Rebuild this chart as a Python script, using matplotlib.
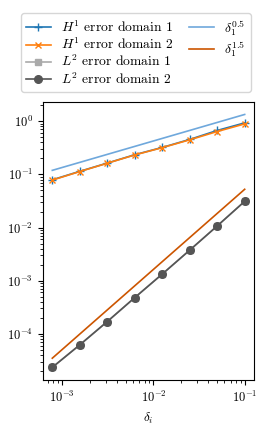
import matplotlib
matplotlib.use("Agg")
import matplotlib.pyplot as plt
from matplotlib.lines import Line2D
import numpy as np

plt.rcParams['font.family'] = 'serif'
plt.rcParams['font.serif'] = ['cmr10']
plt.rcParams['mathtext.fontset'] = 'cm'
plt.rcParams['axes.formatter.use_mathtext'] = True
plt.rcParams['axes.unicode_minus'] = False

delta = [0.1, 0.05, 0.025, 0.0125, 0.00625, 0.003125, 0.0015625, 0.00078125]
h1_dom1 = [0.93, 0.67, 0.454, 0.321, 0.234, 0.163, 0.114, 0.079]
h1_dom2 = [0.89, 0.64, 0.447, 0.318, 0.232, 0.162, 0.113, 0.078]
l2_dom1 = [0.0311, 0.0107, 0.00375, 0.00133, 4.8e-4, 1.7e-4, 6.2e-5, 2.34e-5]
l2_dom2 = [0.0311, 0.0107, 0.00375, 0.00133, 4.8e-4, 1.7e-4, 6.2e-5, 2.34e-5]
ref_05 = [1.34, 0.119]
ref_15 = [0.0524, 3.48e-5]
ref_x = [0.1, 0.00078125]

fig = plt.figure(figsize=(2.66, 4.26), dpi=100)
ax = fig.add_axes([0.1605, 0.108, 0.7955, 0.653])

ax.loglog(delta, h1_dom1, color='#1f77b4', marker='+', ms=6, lw=1.2, label=r'$H^1$ error domain 1')
ax.loglog(delta, h1_dom2, color='#ff7f0e', marker='x', ms=5, lw=1.2, label=r'$H^1$ error domain 2')
ax.loglog(delta, l2_dom1, color='#aaaaaa', marker='s', ms=5, lw=1.2, label=r'$L^2$ error domain 1')
ax.loglog(delta, l2_dom2, color='#555555', marker='o', ms=5.5, lw=1.2, label=r'$L^2$ error domain 2')
ax.loglog(ref_x, ref_05, color='#6fa8dc', lw=1.2, label=r'$\delta_1^{0.5}$')
ax.loglog(ref_x, ref_15, color='#cc5500', lw=1.2, label=r'$\delta_1^{1.5}$')

ax.set_xlabel(r'$\delta_i$', fontsize=9.5)
ax.tick_params(labelsize=9)

handles, labels = ax.get_legend_handles_labels()
blank = Line2D([], [], linestyle='none', marker=None)
handles = handles + [blank, blank]
labels = labels + ['', '']
leg = fig.legend(handles, labels, loc='upper center', bbox_to_anchor=(0.511, 0.985), ncol=2,
                 fontsize=9.8, handlelength=1.8, columnspacing=1.1, handletextpad=0.8,
                 labelspacing=0.12, fancybox=True, framealpha=0.8, borderpad=0.35)
leg.get_frame().set_edgecolor('#cccccc')

fig.savefig('out.png', dpi=100)
